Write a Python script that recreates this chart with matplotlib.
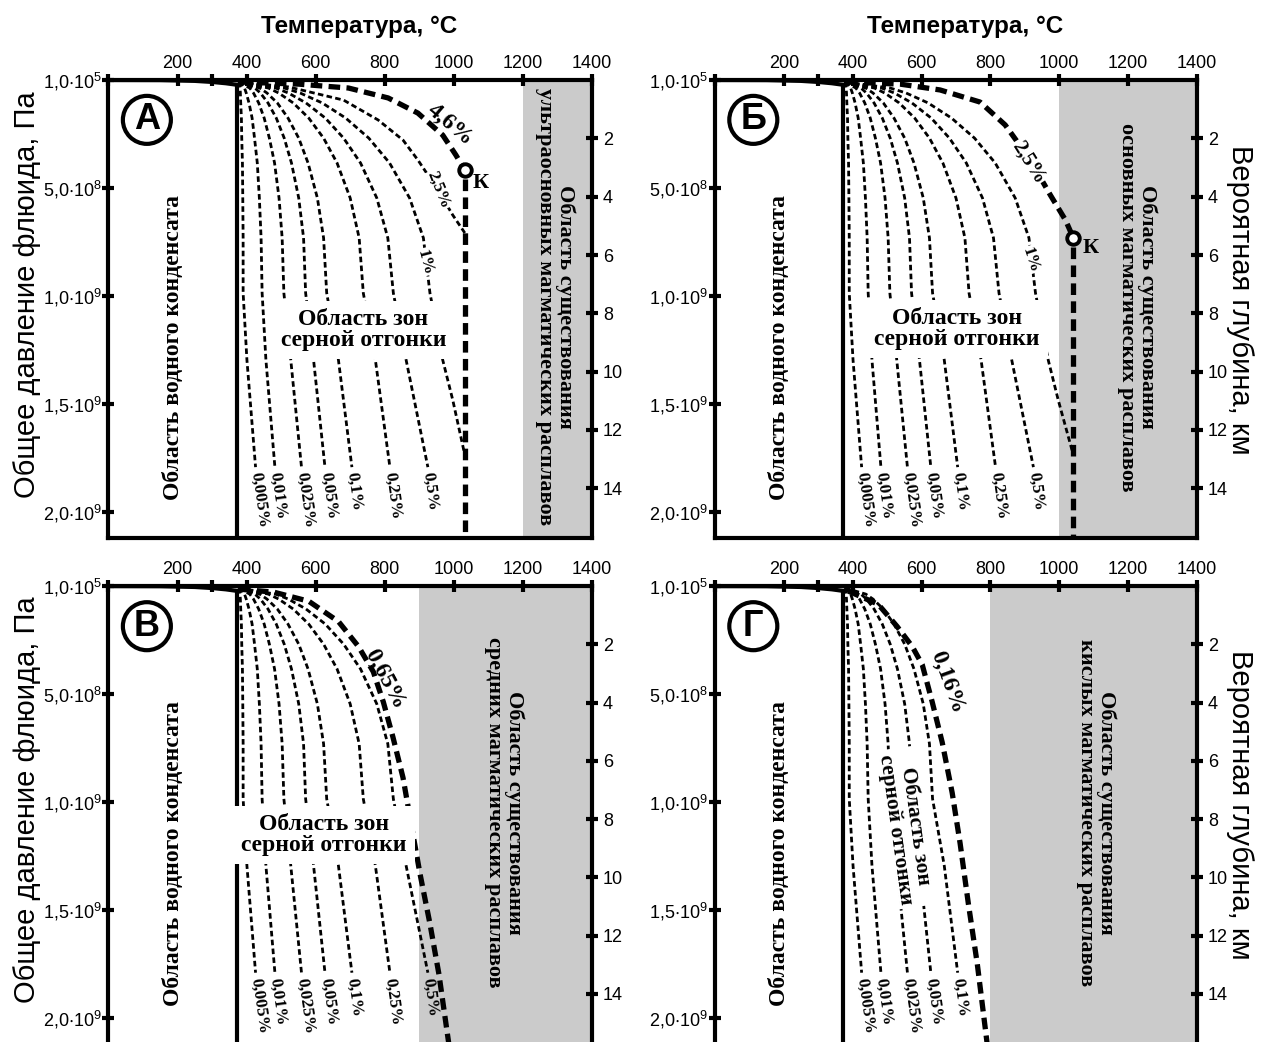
import matplotlib
matplotlib.use('Agg')
import matplotlib.pyplot as plt

plt.rcParams['font.family'] = ['Liberation Sans', 'DejaVu Sans']
plt.rcParams['mathtext.fontset'] = 'custom'
plt.rcParams['mathtext.rm'] = 'Liberation Sans'
plt.rcParams['mathtext.it'] = 'Liberation Sans:italic'
plt.rcParams['mathtext.bf'] = 'Liberation Sans:bold'
SERIF = ['Liberation Serif', 'DejaVu Serif']

# pressure levels (x1e9 Pa) for the thin isolines
p_lev = [0.009, 0.037, 0.060, 0.106, 0.176, 0.269, 0.384, 0.546, 0.731, 0.986, 1.296, 1.792]
# temperatures (C) of the isolines of sulphur content
t_0005 = [378, 381, 382, 383, 385, 386, 388, 389, 390, 390, 401, 426]
t_001 = [378, 394, 399, 407, 416, 423, 431, 437, 442, 445, 456, 482]
t_0025 = [378, 409, 420, 435, 451, 466, 481, 494, 503, 508, 528, 559]
t_005 = [378, 424, 440, 462, 486, 509, 530, 551, 565, 571, 594, 627]
t_01 = [378, 438, 459, 489, 520, 551, 578, 605, 623, 632, 666, 705]
t_025 = [378, 463, 493, 535, 580, 623, 662, 700, 726, 738, 773, 815]
t_05 = [378, 484, 521, 572, 628, 681, 730, 777, 809, 825, 862, 925]
iso_t = [t_0005, t_001, t_0025, t_005, t_01, t_025, t_05]
iso_lab = ['0,005%', '0,01%', '0,025%', '0,05%', '0,1%', '0,25%', '0,5%']

# 1% isoline, joins the vertical line at p = 1.736
t_1 = [378, 509, 555, 619, 687, 754, 814, 872, 912, 931, 968, 997]
p_1 = [0.009, 0.037, 0.060, 0.106, 0.176, 0.269, 0.384, 0.546, 0.731, 0.986, 1.296, 1.481]
p_1_end = 1.736

# 2.5% thin isoline (panel A)
t_25a = [378, 522, 681, 781, 853, 896, 954, 997, 1032]
p_25a = [0.009, 0.032, 0.093, 0.185, 0.278, 0.370, 0.509, 0.625, 0.708]

# thick critical isolines
t_46 = [378, 551, 695, 810, 896, 968, 1006, 1032]
p_46 = [0.009, 0.019, 0.037, 0.083, 0.153, 0.255, 0.347, 0.417]
t_25b = [381, 538, 654, 770, 843, 916, 974, 1018, 1041]
p_25b = [0.009, 0.019, 0.046, 0.102, 0.208, 0.370, 0.532, 0.648, 0.731]
t_065 = [378, 479, 580, 666, 724, 767, 796, 824, 853, 876, 902, 931, 957, 986]
p_065 = [0.014, 0.028, 0.070, 0.164, 0.280, 0.397, 0.537, 0.701, 0.888, 1.098, 1.332, 1.565, 1.799, 2.126]
t_016 = [387, 474, 529, 573, 602, 631, 660, 689, 712, 736, 762, 791]
p_016 = [0.023, 0.084, 0.187, 0.280, 0.364, 0.537, 0.724, 0.958, 1.192, 1.472, 1.752, 2.126]

# water condensate boundary
cond_t = [0, 150, 250, 300, 340, 372]
cond_p = [0, 0.0005, 0.004, 0.009, 0.015, 0.022]

gray_start = [1200, 1000, 900, 800]
gray_names = ['ультраосновных', 'основных', 'средних', 'кислых']
letters = ['А', 'Б', 'В', 'Г']
km_p = 0.135  # 1e9 Pa per km

xticks = [0, 200, 400, 600, 800, 1000, 1200, 1400]
xlabels = ['', '200', '400', '600', '800', '1000', '1200', '1400']
yticks = [0, 0.5, 1.0, 1.5, 2.0]
ylabels = [r'$\mathregular{1{,}0{\cdot}10^{5}}$', r'$\mathregular{5{,}0{\cdot}10^{8}}$',
           r'$\mathregular{1{,}0{\cdot}10^{9}}$', r'$\mathregular{1{,}5{\cdot}10^{9}}$',
           r'$\mathregular{2{,}0{\cdot}10^{9}}$']

thin = dict(color='k', lw=2.0, ls=(0, (2.0, 1.2)), dash_capstyle='butt', zorder=3)
thick = dict(color='k', lw=3.8, ls=(0, (2.2, 1.2)), dash_capstyle='butt', zorder=4)
serif_b = dict(family=SERIF, weight='bold')

fig = plt.figure(figsize=(12.61, 10.42), dpi=100)
rects = [[0.0860, 0.4837, 0.3834, 0.4395], [0.5670, 0.4837, 0.3822, 0.4395],
         [0.0860, -0.0045, 0.3834, 0.4420], [0.5670, -0.0045, 0.3822, 0.4420]]
axes = [fig.add_axes(r) for r in rects]

for i, ax in enumerate(axes):
    ax.set_xlim(0, 1400)
    ax.set_ylim(2.12, 0) if i < 2 else ax.set_ylim(2.135, 0)
    ax.axvspan(gray_start[i], 1400, color='#cbcbcb', lw=0, zorder=0)
    # condensate
    ax.plot(cond_t, cond_p, color='k', lw=3, zorder=5)
    ax.plot([cond_t[-1], cond_t[-1]], [cond_p[-1], 2.2], color='k', lw=3, zorder=5)

    n_iso = [7, 7, 7, 5][i]
    for t, lab in zip(iso_t[:n_iso], iso_lab[:n_iso]):
        ax.plot(t, p_lev, **thin)
        ax.text(t[-1], 1.815, lab, rotation=-82, rotation_mode='anchor',
                ha='left', va='center', fontsize=12.5, **serif_b)

    for s in ax.spines.values():
        s.set_linewidth(3)
    ax.spines['right'].set_visible(False)
    ax.set_xticks(xticks)
    ax.set_xticklabels(xlabels)
    ax.set_xticks([300], minor=True)
    ax.tick_params(axis='x', which='both', top=True, bottom=False, labeltop=True,
                   labelbottom=False, direction='inout', length=8, width=3,
                   labelsize=13, pad=2)
    ax.set_yticks(yticks)
    ax.set_yticklabels(ylabels)
    ax.tick_params(axis='y', left=True, right=False, direction='inout', length=8,
                   width=3, labelsize=13, pad=1)
    sec = ax.secondary_yaxis('right', functions=(lambda p: p / km_p, lambda d: d * km_p))
    sec.set_yticks(range(2, 16, 2))
    sec.spines['right'].set_linewidth(3)
    sec.tick_params(direction='inout', length=8, width=3, labelsize=13, pad=4)

    ax.text(0.0795, 0.913, letters[i], transform=ax.transAxes, ha='center', va='center',
            fontsize=26, fontweight='bold', zorder=8,
            bbox=dict(boxstyle='circle,pad=0.18', fc='white', ec='k', lw=3))
    ax.text(188, 1.24, 'Область водного конденсата', rotation=90, ha='center',
            va='center', fontsize=17, **serif_b)
    gx = [1294, 1227, 1147, 1108][i]
    ax.text(gx, 1.05, 'Область существования\n' + gray_names[i] + ' магматических расплавов',
            rotation=-90, ha='center', va='center', ma='center', linespacing=1.0,
            fontsize=16, zorder=6, **serif_b)

box = dict(boxstyle='square,pad=0.35', fc='white', ec='none')
box_txt = 'Область зон\nсерной отгонки'

# panel A
ax = axes[0]
ax.plot(t_1 + [t_46[-1]], p_1 + [p_1_end], **thin)
ax.plot(t_25a, p_25a, **thin)
ax.plot(t_46, p_46, **thick)
ax.plot([t_46[-1], t_46[-1]], [p_46[-1] + 0.04, 2.2], **thick)
ax.plot(t_46[-1], p_46[-1], 'o', ms=9, mfc='white', mec='k', mew=2.8, zorder=7)
ax.text(1078, 0.477, 'К', ha='center', va='center', fontsize=16, **serif_b)
ax.text(989, 0.208, '4,6%', rotation=-40, ha='center', va='center', fontsize=17, **serif_b)
ax.text(954, 0.509, '2,5%', rotation=-68, ha='center', va='center', fontsize=12.5, zorder=6,
        bbox=dict(boxstyle='square,pad=0.05', fc='white', ec='none'), **serif_b)
ax.text(915, 0.843, '1%', rotation=-75, ha='center', va='center', fontsize=12.5, zorder=6,
        bbox=dict(boxstyle='square,pad=0.05', fc='white', ec='none'), **serif_b)
ax.text(738, 1.157, box_txt, ha='center', va='center', linespacing=1.0, fontsize=17,
        zorder=6, bbox=box, **serif_b)

# panel B
ax = axes[1]
ax.plot(t_1 + [t_25b[-1]], p_1 + [p_1_end], **thin)
ax.plot(t_25b, p_25b, **thick)
ax.plot([t_25b[-1], t_25b[-1]], [p_25b[-1] + 0.04, 2.2], **thick)
ax.plot(t_25b[-1], p_25b[-1], 'o', ms=9, mfc='white', mec='k', mew=2.8, zorder=7)
ax.text(1090, 0.778, 'К', ha='center', va='center', fontsize=16, **serif_b)
ax.text(910, 0.38, '2,5%', rotation=-58, ha='center', va='center', fontsize=15, zorder=6,
        bbox=dict(boxstyle='square,pad=0.05', fc='white', ec='none'), **serif_b)
ax.text(915, 0.833, '1%', rotation=-72, ha='center', va='center', fontsize=12.5, zorder=6,
        bbox=dict(boxstyle='square,pad=0.05', fc='white', ec='none'), **serif_b)
ax.text(703, 1.153, box_txt, ha='center', va='center', linespacing=1.0, fontsize=17,
        zorder=6, bbox=box, **serif_b)

# panel C
ax = axes[2]
ax.plot(t_065, p_065, **thick)
ax.text(799, 0.43, '0,65%', rotation=-62, ha='center', va='center', fontsize=17, **serif_b)
ax.text(623, 1.154, box_txt, ha='center', va='center', linespacing=1.0, fontsize=17,
        zorder=6, bbox=box, **serif_b)

# panel D
ax = axes[3]
ax.plot(t_016, p_016, **thick)
ax.text(674, 0.444, '0,16%', rotation=-70, ha='center', va='center', fontsize=17, **serif_b)
ax.text(552, 1.12, box_txt, rotation=-82, ha='center', va='center', linespacing=1.0,
        fontsize=15.5, zorder=6, bbox=dict(boxstyle='square,pad=0.2', fc='white', ec='none'),
        **serif_b)

for xc in [359, 965]:
    fig.text(xc / 1261, 1 - 27 / 1042, 'Температура, °C', ha='center', va='center',
             fontsize=17.5, fontweight='bold')
for yc in [295, 800]:
    fig.text(27 / 1261, 1 - yc / 1042, 'Общее давление флюида, Па', rotation=90,
             ha='center', va='center', fontsize=21)
for yc in [300, 805]:
    fig.text(1240 / 1261, 1 - yc / 1042, 'Вероятная глубина, км', rotation=-90,
             ha='center', va='center', fontsize=21)

fig.savefig('out.png', dpi=100)
